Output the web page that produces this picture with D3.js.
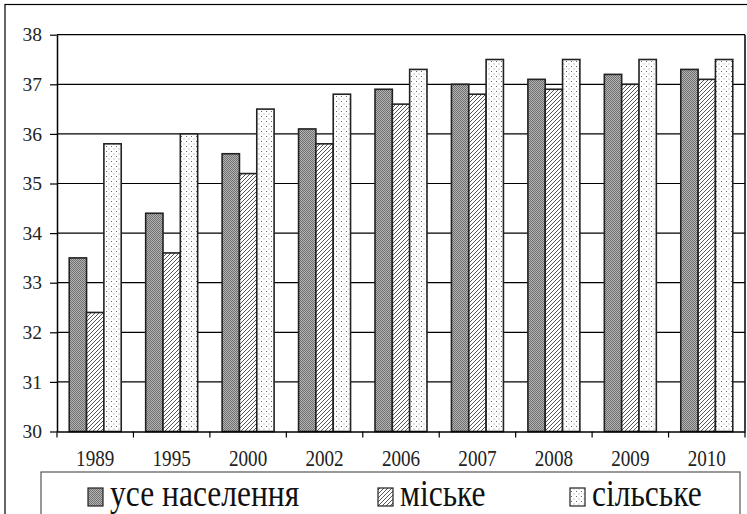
<!DOCTYPE html>
<html><head><meta charset="utf-8">
<script src="https://cdn.jsdelivr.net/npm/d3@7"></script>
<style>body{margin:0;background:#fff}svg{display:block}</style>
</head><body>
<script>
const categories = ["1989","1995","2000","2002","2006","2007","2008","2009","2010"];
const seriesNames = ["усе населення","міське","сільське"];
const allPop = [33.5,34.4,35.6,36.1,36.9,37.0,37.1,37.2,37.3];
const urban  = [32.4,33.6,35.2,35.8,36.6,36.8,36.9,37.0,37.1];
const rural  = [35.8,36.0,36.5,36.8,37.3,37.5,37.5,37.5,37.5];
const yTicks = [30,31,32,33,34,35,36,37,38];

const FONT="'Liberation Serif', 'Times New Roman', 'DejaVu Serif', serif";
const W=747,H=514;
const svg=d3.select("body").append("svg").attr("width",W).attr("height",H).style("font-family",FONT);
const defs=svg.append("defs");
const p1=defs.append("pattern").attr("id","pDark").attr("width",2).attr("height",2).attr("patternUnits","userSpaceOnUse");
p1.append("rect").attr("width",2).attr("height",2).attr("fill","#b4b4b4");
p1.append("rect").attr("width",1).attr("height",1).attr("fill","#707070");
p1.append("rect").attr("x",1).attr("y",1).attr("width",1).attr("height",1).attr("fill","#707070");
const p2=defs.append("pattern").attr("id","pHatch").attr("width",4).attr("height",4).attr("patternUnits","userSpaceOnUse");
p2.append("rect").attr("width",4).attr("height",4).attr("fill","#fff");
p2.append("path").attr("d","M-1,1 L1,-1 M0,4 L4,0 M3,5 L5,3").attr("stroke","#555").attr("stroke-width",1);
const p3=defs.append("pattern").attr("id","pDot").attr("width",5).attr("height",5).attr("patternUnits","userSpaceOnUse");
p3.append("rect").attr("width",5).attr("height",5).attr("fill","#fff");
p3.append("rect").attr("x",1).attr("y",1).attr("width",1).attr("height",1).attr("fill","#666");
p3.append("rect").attr("x",3.5).attr("y",3.5).attr("width",1).attr("height",1).attr("fill","#999");
const fills=["url(#pDark)","url(#pHatch)","url(#pDot)"];

svg.append("rect").attr("x",5).attr("y",4.5).attr("width",800).attr("height",600).attr("fill","none").attr("stroke","#000").attr("stroke-width",1.2);

const L=57,R=745,T=34.7,B=431.5;
const y=d3.scaleLinear().domain([30,38]).range([B,T]);
const x0=d3.scaleBand().domain(categories).range([L,R]).paddingInner(0.32).paddingOuter(0.16);
const x1=d3.scaleBand().domain(seriesNames).range([0,x0.bandwidth()]);

svg.append("g").selectAll("line").data(yTicks.filter(d=>d>30)).join("line")
  .attr("x1",L).attr("x2",R).attr("y1",d=>y(d)).attr("y2",d=>y(d))
  .attr("stroke","#000").attr("stroke-width",1.2);
svg.append("line").attr("x1",R).attr("x2",R).attr("y1",T).attr("y2",B).attr("stroke","#000").attr("stroke-width",1.5);

const data=[allPop,urban,rural];
const g=svg.append("g");
categories.forEach((c,i)=>{
  seriesNames.forEach((s,j)=>{
    g.append("rect").attr("x",x0(c)+x1(s)).attr("y",y(data[j][i]))
     .attr("width",x1.bandwidth()).attr("height",B-y(data[j][i]))
     .attr("fill",fills[j]).attr("stroke","#222").attr("stroke-width",1.6);
  });
});

const yAx=svg.append("g").attr("transform",`translate(${L},0)`)
  .call(d3.axisLeft(y).tickValues(yTicks).tickSize(7).tickSizeOuter(0).tickPadding(8).tickFormat(d3.format("d")));
yAx.attr("font-family",FONT);
yAx.select(".domain").attr("stroke","#000").attr("stroke-width",1.5);
yAx.selectAll(".tick line").attr("stroke","#000").attr("stroke-width",1.2);
yAx.selectAll("text").attr("font-size",19.5).attr("fill","#222");

const xAx=svg.append("g").attr("transform",`translate(0,${B})`)
  .call(d3.axisBottom(x0).tickSize(0));
xAx.attr("font-family",FONT);
xAx.select(".domain").attr("stroke","#000").attr("stroke-width",1.5);
xAx.selectAll("text").attr("y",35).attr("dy",0).attr("font-size",22.5).attr("fill","#222")
  .attr("transform","scale(0.85,1)");
const step=x0.step();
svg.append("g").selectAll("line").data(d3.range(categories.length+1)).join("line")
  .attr("x1",d=>L+d*step).attr("x2",d=>L+d*step).attr("y1",B).attr("y2",B+6)
  .attr("stroke","#000").attr("stroke-width",1.2);

svg.append("rect").attr("x",41).attr("y",472).attr("width",699).attr("height",80)
  .attr("fill","#fff").attr("stroke","#555").attr("stroke-width",1.2);
const legX=[88,378,570];
seriesNames.forEach((s,j)=>{
  svg.append("rect").attr("x",legX[j]).attr("y",488).attr("width",15).attr("height",18)
    .attr("fill",fills[j]).attr("stroke","#222").attr("stroke-width",1.2);
  svg.append("text").attr("transform",`translate(${legX[j]+22},505.5) scale(0.83,1)`).text(s)
    .attr("font-family",FONT).attr("font-size",38).attr("fill","#111");
});
</script>
</body></html>
